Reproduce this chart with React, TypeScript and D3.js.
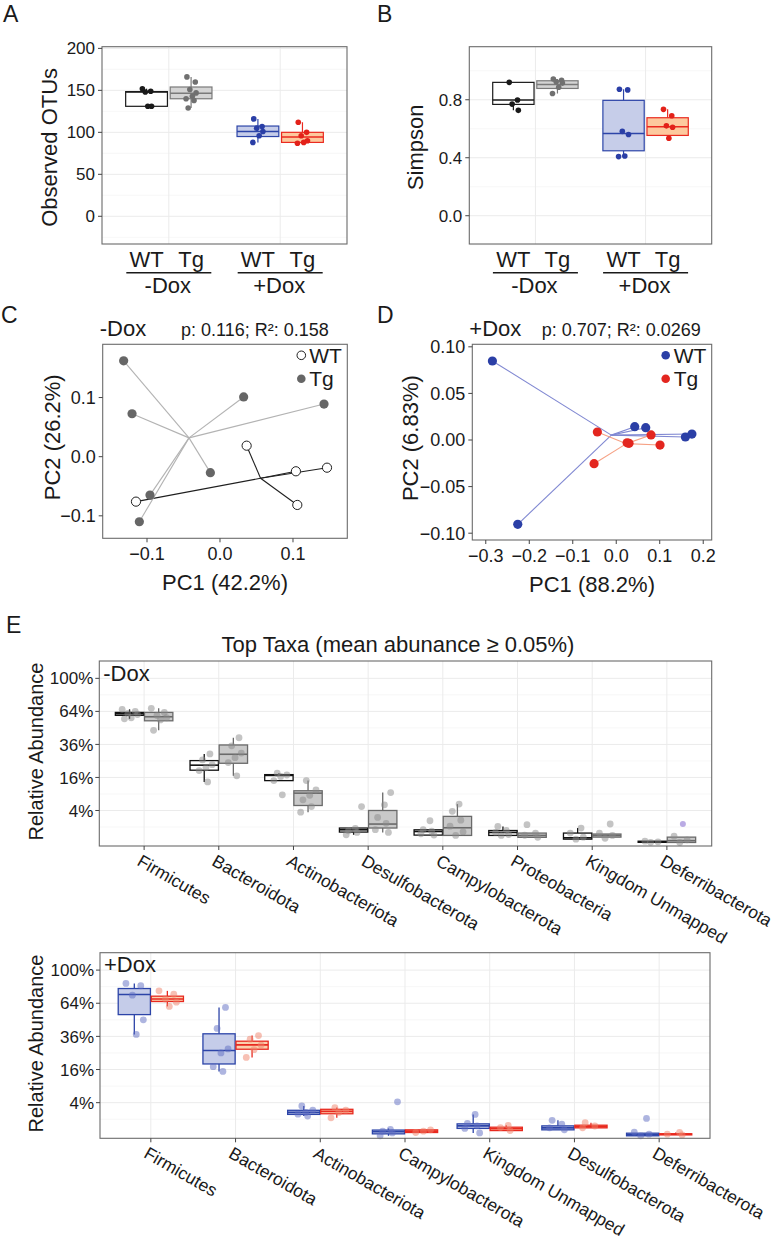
import React from "react";
import * as d3 from "d3";

const FONT = "'Liberation Sans', Arial, Helvetica, sans-serif";

// ---------- shared categories ----------
const genotypes = ["WT", "Tg"];
const conditions = ["-Dox", "+Dox"];

type Stat = { lo: number; q1: number; med: number; q3: number; hi: number };

// ---------- Panel A: Observed OTUs (order: WT-Dox, Tg-Dox, WT+Dox, Tg+Dox) ----------
const otuStats: Stat[] = [
  { lo: 131, q1: 131, med: 148, q3: 148.5, hi: 152 },
  { lo: 129, q1: 140, med: 146.5, q3: 154, hi: 166 },
  { lo: 88, q1: 95, med: 101, q3: 107.5, hi: 116 },
  { lo: 87, q1: 88, med: 94.5, q3: 100, hi: 112 },
];
const otuPoints: number[][] = [
  [152, 149, 148, 131, 131],
  [166, 160, 151, 147, 143, 140, 138, 129],
  [116, 107, 105, 101, 96, 88],
  [112, 100, 96, 90, 88, 87],
];
const otuTicks = [0, 50, 100, 150, 200];
const otuMinor = [-25, 25, 75, 125, 175];

// ---------- Panel B: Simpson ----------
const simpsonStats: Stat[] = [
  { lo: 0.727, q1: 0.768, med: 0.798, q3: 0.92, hi: 0.92 },
  { lo: 0.843, q1: 0.878, med: 0.905, q3: 0.931, hi: 0.943 },
  { lo: 0.41, q1: 0.448, med: 0.568, q3: 0.796, hi: 0.872 },
  { lo: 0.534, q1: 0.554, med: 0.614, q3: 0.676, hi: 0.734 },
];
const simpsonPoints: number[][] = [
  [0.92, 0.798, 0.77, 0.727],
  [0.943, 0.935, 0.924, 0.915, 0.886, 0.843],
  [0.872, 0.868, 0.582, 0.56, 0.412, 0.408],
  [0.734, 0.69, 0.62, 0.61, 0.534],
];
const simpsonTicks = [0, 0.4, 0.8];
const simpsonMinor = [-0.2, 0.2, 0.6, 1.0];

// ---------- Panel C: PCoA -Dox ----------
const pcoaC_WT: [number, number][] = [
  [0.0365, 0.0186], [0.104, -0.0247], [0.1466, -0.0186], [0.1059, -0.0816], [-0.1151, -0.076],
];
const pcoaC_Tg: [number, number][] = [
  [-0.132, 0.162], [-0.1205, 0.0726], [0.0324, 0.101], [0.1425, 0.089], [-0.0132, -0.027], [-0.0959, -0.065], [-0.1105, -0.11],
];
const pcoaC_ticks = [-0.1, 0, 0.1];

// ---------- Panel D: PCoA +Dox ----------
const pcoaD_WT: [number, number][] = [
  [-0.2848, 0.0848], [-0.2265, -0.0905], [0.0425, 0.0143], [0.0678, 0.0132], [0.159, 0.0032], [0.174, 0.0064],
];
const pcoaD_Tg: [number, number][] = [
  [-0.0434, 0.0086], [-0.051, -0.0254], [0.0294, -0.0036], [0.08, 0.0054], [0.1007, -0.0054], [0.025, -0.003],
];
const pcoaD_xTicks = [-0.3, -0.2, -0.1, 0, 0.1, 0.2];
const pcoaD_yTicks = [-0.1, -0.05, 0, 0.05, 0.1];

// ---------- Panel E: taxa (percent) ----------
const abundTicks = [4, 16, 36, 64, 100];

const taxaTop = ["Firmicutes", "Bacteroidota", "Actinobacteriota", "Desulfobacterota", "Campylobacterota", "Proteobacteria", "Kingdom Unmapped", "Deferribacterota"];
const topWTStats: Stat[] = [
  { lo: 57, q1: 60.2, med: 61.7, q3: 63, hi: 66 },
  { lo: 13.9, q1: 19.7, med: 22.5, q3: 25.2, hi: 29.4 },
  { lo: 14.5, q1: 14.5, med: 17.0, q3: 17.4, hi: 18.1 },
  { lo: 0.28, q1: 0.48, med: 0.69, q3: 0.88, hi: 0.88 },
  { lo: 0.26, q1: 0.26, med: 0.53, q3: 0.69, hi: 0.69 },
  { lo: 0.24, q1: 0.24, med: 0.45, q3: 0.62, hi: 1.07 },
  { lo: 0.07, q1: 0.07, med: 0.12, q3: 0.4, hi: 0.88 },
  { lo: 0.005, q1: 0.005, med: 0.01, q3: 0.02, hi: 0.02 },
];
const topTgStats: Stat[] = [
  { lo: 47, q1: 55.2, med: 58.9, q3: 63, hi: 67 },
  { lo: 16.8, q1: 23.6, med: 29.2, q3: 35.6, hi: 41 },
  { lo: 3.6, q1: 5.3, med: 9.3, q3: 10.2, hi: 14.5 },
  { lo: 0.45, q1: 0.88, med: 1.39, q3: 4.0, hi: 9.5 },
  { lo: 0.24, q1: 0.24, med: 0.91, q3: 2.7, hi: 5.7 },
  { lo: 0.14, q1: 0.14, med: 0.24, q3: 0.4, hi: 0.4 },
  { lo: 0.15, q1: 0.15, med: 0.24, q3: 0.33, hi: 0.33 },
  { lo: 0.004, q1: 0.004, med: 0.03, q3: 0.15, hi: 0.15 },
];
const topWTPoints: number[][] = [
  [66, 64, 62, 61, 58, 57],
  [29.4, 25.6, 22.8, 21, 19.5, 13.9],
  [18.1, 17.2, 16.5, 14.5, 8.7],
  [5.0, 0.85, 0.6, 0.45, 0.28],
  [1.9, 0.7, 0.55, 0.35, 0.26],
  [1.07, 0.62, 0.45, 0.3, 0.24],
  [0.88, 0.4, 0.15, 0.07],
  [0.02, 0.01, 0.005],
];
const topTgPoints: number[][] = [
  [67, 63, 60, 58, 56, 47],
  [41, 35, 30, 27, 24, 16.8],
  [14.5, 10.5, 8.5, 7, 5, 3.6],
  [9.5, 5.5, 2.5, 1.5, 0.7, 0.45],
  [5.7, 3.8, 2.0, 1.1, 0.5, 0.24],
  [1.3, 0.4, 0.25, 0.14],
  [1.4, 0.4, 0.24, 0.1],
  [0.2, 0.05, 0.004],
];
const topHighlight = { taxon: "Deferribacterota", value: 1.4 };

const taxaBottom = ["Firmicutes", "Bacteroidota", "Actinobacteriota", "Campylobacterota", "Kingdom Unmapped", "Desulfobacterota", "Deferribacterota"];
const botWTStats: Stat[] = [
  { lo: 37.4, q1: 53.5, med: 72.7, q3: 79, hi: 84.6 },
  { lo: 15.1, q1: 18.8, med: 26.5, q3: 37.9, hi: 59.9 },
  { lo: 1.42, q1: 1.67, med: 2.0, q3: 2.37, hi: 3.24 },
  { lo: 0.0, q1: 0.014, med: 0.06, q3: 0.12, hi: 0.2 },
  { lo: 0.03, q1: 0.2, med: 0.36, q3: 0.52, hi: 1.67 },
  { lo: 0.13, q1: 0.13, med: 0.23, q3: 0.36, hi: 0.87 },
  { lo: 0.0, q1: 0.0, med: 0.003, q3: 0.025, hi: 0.03 },
];
const botTgStats: Stat[] = [
  { lo: 61, q1: 65.7, med: 68.2, q3: 71, hi: 76.5 },
  { lo: 22.4, q1: 27.3, med: 30.1, q3: 32.6, hi: 36.6 },
  { lo: 1.18, q1: 1.77, med: 2.18, q3: 2.56, hi: 2.9 },
  { lo: 0.04, q1: 0.04, med: 0.08, q3: 0.13, hi: 0.13 },
  { lo: 0.1, q1: 0.1, med: 0.18, q3: 0.27, hi: 0.4 },
  { lo: 0.23, q1: 0.23, med: 0.31, q3: 0.41, hi: 0.62 },
  { lo: 0.003, q1: 0.003, med: 0.01, q3: 0.015, hi: 0.04 },
];
const botWTPoints: number[][] = [
  [84.6, 82, 72, 49, 37.4],
  [60, 42, 27.5, 25, 17.4, 15.1],
  [3.24, 2.4, 2.0, 1.7, 1.42],
  [4.2, 0.15, 0.08, 0.03, 0.0],
  [1.67, 0.55, 0.36, 0.2, 0.03],
  [0.87, 0.5, 0.23, 0.13],
  [1.1, 0.05, 0.01, 0.0],
];
const botTgPoints: number[][] = [
  [76.5, 73, 68, 65, 61],
  [36.6, 34, 30, 27, 22.4],
  [2.9, 2.4, 2.0, 1.18],
  [0.13, 0.08, 0.04],
  [0.4, 0.25, 0.1],
  [0.62, 0.35, 0.23],
  [0.04, 0.01, 0.003],
];

// ---------- styles ----------
const GRID = "#ebebeb";
const GRID_MINOR = "#f3f3f3";
const FRAME = "#6b6b6b";
const TXT = "#1a1a1a";

const alphaStyles = [
  { stroke: "#1a1a1a", fill: "#ffffff", pt: "#1a1a1a" },
  { stroke: "#7a7a7a", fill: "#d4d4d4", pt: "#707070" },
  { stroke: "#2d45a8", fill: "#c6cde9", pt: "#2a3ea6" },
  { stroke: "#ea2a20", fill: "#fdc99e", pt: "#e32119" },
];
const jitterA = [-0.1, 0.1, -0.03, 0.12, 0.03, -0.12, 0.07, -0.07];
const jitterE = [-0.26, 0.2, -0.06, 0.28, 0.06, -0.18, 0.12];

type Frame = { x0: number; y0: number; x1: number; y1: number };

function BoxMark({ cx, w, y, s, stroke, fill, sw }: { cx: number; w: number; y: (v: number) => number; s: Stat; stroke: string; fill: string; sw: number }) {
  const top = y(s.q3);
  const bot = y(s.q1);
  return (
    <g>
      <line x1={cx} x2={cx} y1={y(s.hi)} y2={top} stroke={stroke} strokeWidth={sw} />
      <line x1={cx} x2={cx} y1={bot} y2={y(s.lo)} stroke={stroke} strokeWidth={sw} />
      <rect x={cx - w / 2} y={top} width={w} height={Math.max(0.6, bot - top)} fill={fill} stroke={stroke} strokeWidth={sw} />
      <line x1={cx - w / 2} x2={cx + w / 2} y1={y(s.med)} y2={y(s.med)} stroke={stroke} strokeWidth={sw + 0.3} />
    </g>
  );
}

function AlphaPanel({ f, stats, points, yDomain, ticks, minor, fmt, title, titleX }: any) {
  const x = d3.scalePoint<string>().domain(conditions).range([f.x0, f.x1]).padding(0.6);
  const y = d3.scaleLinear().domain(yDomain).range([f.y1, f.y0]);
  const step = x.step();
  const bw = 0.375 * step;
  const off = 0.2 * step;
  const groups = conditions.flatMap((c, ci) =>
    genotypes.map((g, gi) => ({ c, g, idx: ci * 2 + gi, cx: (x(c) as number) + (gi === 0 ? -off : off) }))
  );
  return (
    <g>
      {minor.map((t: number) => (
        <line key={"m" + t} x1={f.x0} x2={f.x1} y1={y(t)} y2={y(t)} stroke={GRID_MINOR} strokeWidth={0.7} />
      ))}
      {ticks.map((t: number) => (
        <line key={"g" + t} x1={f.x0} x2={f.x1} y1={y(t)} y2={y(t)} stroke={GRID} strokeWidth={1} />
      ))}
      {conditions.map((c) => (
        <line key={c} x1={x(c)} x2={x(c)} y1={f.y0} y2={f.y1} stroke={GRID} strokeWidth={1} />
      ))}
      {groups.map((g) => (
        <BoxMark key={g.idx} cx={g.cx} w={bw} y={y} s={stats[g.idx]} stroke={alphaStyles[g.idx].stroke} fill={alphaStyles[g.idx].fill} sw={1.2} />
      ))}
      {groups.map((g) =>
        points[g.idx].map((v: number, i: number) => (
          <circle key={g.idx + "-" + i} cx={g.cx + jitterA[i % jitterA.length] * bw} cy={y(v)} r={2.8} fill={alphaStyles[g.idx].pt} />
        ))
      )}
      <rect x={f.x0} y={f.y0} width={f.x1 - f.x0} height={f.y1 - f.y0} fill="none" stroke={FRAME} strokeWidth={1.1} />
      {ticks.map((t: number) => (
        <g key={"t" + t}>
          <line x1={f.x0 - 4} x2={f.x0} y1={y(t)} y2={y(t)} stroke="#444" strokeWidth={1} />
          <text x={f.x0 - 7} y={y(t)} dy="0.36em" textAnchor="end" fontSize={17} fill={TXT}>{fmt(t)}</text>
        </g>
      ))}
      {groups.map((g) => (
        <text key={"l" + g.idx} x={g.cx} y={f.y1 + 22.7} textAnchor="middle" fontSize={22} fill={TXT}>{g.g}</text>
      ))}
      {conditions.map((c) => (
        <g key={"c" + c}>
          <line x1={(x(c) as number) - 42.5} x2={(x(c) as number) + 42.5} y1={f.y1 + 28.7} y2={f.y1 + 28.7} stroke={TXT} strokeWidth={1.4} />
          <text x={(x(c) as number) - 1} y={f.y1 + 49} textAnchor="middle" fontSize={22} fill={TXT}>{c}</text>
        </g>
      ))}
      <text transform={`translate(${titleX},${(f.y0 + f.y1) / 2 + 2}) rotate(-90)`} textAnchor="middle" fontSize={22} fill={TXT}>{title}</text>
    </g>
  );
}

function PcoaPanel({ f, xDomain, yDomain, xTicks, yTicks, xFmt, yFmt, wt, tg, st, cond, stat, xTitle, yTitle, yTitleX, statX }: any) {
  const x = d3.scaleLinear().domain(xDomain).range([f.x0, f.x1]);
  const y = d3.scaleLinear().domain(yDomain).range([f.y1, f.y0]);
  const cen = (pts: [number, number][]) => [d3.mean(pts, (p) => p[0]) as number, d3.mean(pts, (p) => p[1]) as number];
  const groups = [
    { pts: wt, c: cen(wt), s: st.wt },
    { pts: tg, c: cen(tg), s: st.tg },
  ];
  return (
    <g>
      {groups.map((g, gi) =>
        g.pts.map((p: [number, number], i: number) => (
          <line key={gi + "l" + i} x1={x(g.c[0])} y1={y(g.c[1])} x2={x(p[0])} y2={y(p[1])} stroke={g.s.line} strokeWidth={1.1} />
        ))
      )}
      {[groups[1], groups[0]].map((g, gi) =>
        g.pts.map((p: [number, number], i: number) => (
          <circle key={gi + "p" + i} cx={x(p[0])} cy={y(p[1])} r={4.6} fill={g.s.fill} stroke={g.s.stroke} strokeWidth={g.s.sw} />
        ))
      )}
      <rect x={f.x0} y={f.y0} width={f.x1 - f.x0} height={f.y1 - f.y0} fill="none" stroke={FRAME} strokeWidth={1.1} />
      {xTicks.map((t: number) => (
        <g key={"x" + t}>
          <line x1={x(t)} x2={x(t)} y1={f.y1} y2={f.y1 + 4} stroke="#444" />
          <text x={x(t)} y={f.y1 + 22} textAnchor="middle" fontSize={18} fill={TXT}>{xFmt(t)}</text>
        </g>
      ))}
      {yTicks.map((t: number) => (
        <g key={"y" + t}>
          <line x1={f.x0 - 4} x2={f.x0} y1={y(t)} y2={y(t)} stroke="#444" />
          <text x={f.x0 - 7} y={y(t)} dy="0.36em" textAnchor="end" fontSize={18} fill={TXT}>{yFmt(t)}</text>
        </g>
      ))}
      <text x={f.x0 - 3} y={f.y0 - 8} fontSize={22} fill={TXT}>{cond}</text>
      <text x={statX} y={f.y0 - 8} fontSize={18} fill={TXT}>{stat}</text>
      <text x={(f.x0 + f.x1) / 2} y={f.y1 + 52} textAnchor="middle" fontSize={22} fill={TXT}>{xTitle}</text>
      <text transform={`translate(${yTitleX},${(f.y0 + f.y1) / 2 - 4}) rotate(-90)`} textAnchor="middle" fontSize={22} fill={TXT}>{yTitle}</text>
      {genotypes.map((g, i) => {
        const s = i === 0 ? st.wt : st.tg;
        const ly = f.y0 + 11 + i * 23.5;
        return (
          <g key={"lg" + g}>
            <circle cx={f.x1 - 46} cy={ly} r={4.3} fill={s.fill} stroke={s.stroke} strokeWidth={s.sw} />
            <text x={f.x1 - 38} y={ly} dy="0.36em" fontSize={21} fill={TXT}>{g}</text>
          </g>
        );
      })}
    </g>
  );
}

function TaxaPanel({ f, taxa, wtStats, tgStats, wtPts, tgPts, st, label, highlight }: any) {
  const x = d3.scalePoint<string>().domain(taxa).range([f.x0, f.x1]).padding(0.6);
  const ys = d3.scaleLinear().domain([-0.015, 1.105]).range([f.y1, f.y0]);
  const y = (v: number) => ys(Math.sqrt(v / 100));
  const step = x.step();
  const bw = 0.38 * step;
  const off = 0.195 * step;
  const minor = abundTicks.map((t) => (Math.sqrt(t) - 1) ** 2);
  const sets = [
    { stats: wtStats, pts: wtPts, s: st.wt, dx: -off },
    { stats: tgStats, pts: tgPts, s: st.tg, dx: off },
  ];
  return (
    <g>
      {minor.map((t) => (
        <line key={"m" + t} x1={f.x0} x2={f.x1} y1={y(t)} y2={y(t)} stroke={GRID_MINOR} strokeWidth={0.7} />
      ))}
      {abundTicks.map((t) => (
        <line key={"g" + t} x1={f.x0} x2={f.x1} y1={y(t)} y2={y(t)} stroke={GRID} strokeWidth={1} />
      ))}
      {taxa.map((t: string) => (
        <line key={"v" + t} x1={x(t)} x2={x(t)} y1={f.y0} y2={f.y1} stroke={GRID} strokeWidth={1} />
      ))}
      {sets.map((set, si) =>
        taxa.map((t: string, ti: number) => (
          <BoxMark key={si + t} cx={(x(t) as number) + set.dx} w={bw} y={y} s={set.stats[ti]} stroke={set.s.stroke} fill={set.s.fill} sw={1.3} />
        ))
      )}
      {sets.map((set, si) =>
        taxa.map((t: string, ti: number) =>
          set.pts[ti].map((v: number, i: number) => (
            <circle key={si + t + i} cx={(x(t) as number) + set.dx + jitterE[(i + ti) % jitterE.length] * bw} cy={y(v)} r={3.4} fill={set.s.pt} fillOpacity={0.5} />
          ))
        )
      )}
      {highlight && (
        <circle cx={(x(highlight.taxon) as number) + off + 0.05 * bw} cy={y(highlight.value)} r={3} fill="#9d88d8" fillOpacity={0.7} />
      )}
      <rect x={f.x0} y={f.y0} width={f.x1 - f.x0} height={f.y1 - f.y0} fill="none" stroke={FRAME} strokeWidth={1.1} />
      {abundTicks.map((t) => (
        <g key={"t" + t}>
          <line x1={f.x0 - 4} x2={f.x0} y1={y(t)} y2={y(t)} stroke="#444" />
          <text x={f.x0 - 6} y={y(t)} dy="0.36em" textAnchor="end" fontSize={17} fill={TXT}>{t + "%"}</text>
        </g>
      ))}
      {taxa.map((t: string) => (
        <g key={"xl" + t}>
          <line x1={x(t)} x2={x(t)} y1={f.y1} y2={f.y1 + 4} stroke="#444" />
          <text transform={`translate(${(x(t) as number) - 8},${f.y1 + 18.5}) rotate(30)`} fontSize={17.5} fill={TXT}>{t}</text>
        </g>
      ))}
      <text x={f.x0 + 4} y={f.y0 + 19.5} fontSize={22} fill={TXT}>{label}</text>
      <text transform={`translate(42.7,${(f.y0 + f.y1) / 2 - 2}) rotate(-90)`} textAnchor="middle" fontSize={20} fill={TXT}>Relative Abundance</text>
    </g>
  );
}

const panelLetters = [
  { t: "A", x: 3, y: 22 },
  { t: "B", x: 377, y: 22 },
  { t: "C", x: 1, y: 323 },
  { t: "D", x: 377, y: 323 },
  { t: "E", x: 6, y: 633 },
];

export default function App() {
  const fA: Frame = { x0: 102, y0: 46.7, x1: 347, y1: 244 };
  const fB: Frame = { x0: 469.3, y0: 46.7, x1: 711.7, y1: 244 };
  const fC: Frame = { x0: 102.7, y0: 344.3, x1: 347.3, y1: 538.3 };
  const fD: Frame = { x0: 472.3, y0: 344.3, x1: 711.7, y1: 540 };
  const fE1: Frame = { x0: 99.3, y0: 661, x1: 711.7, y1: 846 };
  const fE2: Frame = { x0: 100, y0: 952.7, x1: 710, y1: 1138.3 };
  const f1 = d3.format(".1f");
  const f2 = d3.format(".2f");
  return (
    <svg width={780} height={1239} style={{ position: "absolute", left: 0, top: 0, background: "#fff" }} fontFamily={FONT}>
      <rect x={0} y={0} width={780} height={1239} fill="#fff" />
      {panelLetters.map((p) => (
        <text key={p.t} x={p.x} y={p.y} fontSize={23} fill={TXT}>{p.t}</text>
      ))}
      <AlphaPanel f={fA} stats={otuStats} points={otuPoints} yDomain={[-33, 202]} ticks={otuTicks} minor={otuMinor} fmt={d3.format("d")} title="Observed OTUs" titleX={56.5} />
      <AlphaPanel f={fB} stats={simpsonStats} points={simpsonPoints} yDomain={[-0.195, 1.166]} ticks={simpsonTicks} minor={simpsonMinor} fmt={f1} title="Simpson" titleX={423} />
      <PcoaPanel
        f={fC} xDomain={[-0.1607, 0.1744]} yDomain={[-0.138, 0.19]} xTicks={pcoaC_ticks} yTicks={pcoaC_ticks} xFmt={f1} yFmt={f1}
        wt={pcoaC_WT} tg={pcoaC_Tg}
        st={{ wt: { line: "#1f1f1f", fill: "#ffffff", stroke: "#1f1f1f", sw: 1 }, tg: { line: "#b3b3b3", fill: "#666666", stroke: "none", sw: 0 } }}
        cond="-Dox" stat="p: 0.116; R²: 0.158" statX={181} xTitle="PC1 (42.2%)" yTitle="PC2 (26.2%)" yTitleX={60}
      />
      <PcoaPanel
        f={fD} xDomain={[-0.331, 0.2195]} yDomain={[-0.1073, 0.1027]} xTicks={pcoaD_xTicks} yTicks={pcoaD_yTicks} xFmt={f1} yFmt={f2}
        wt={pcoaD_WT} tg={pcoaD_Tg}
        st={{ wt: { line: "#8088d2", fill: "#2b3fa6", stroke: "none", sw: 0 }, tg: { line: "#f6a184", fill: "#e3261f", stroke: "none", sw: 0 } }}
        cond="+Dox" stat="p: 0.707; R²: 0.0269" statX={541.7} xTitle="PC1 (88.2%)" yTitle="PC2 (6.83%)" yTitleX={418}
      />
      <text x={398} y={652} textAnchor="middle" fontSize={22} fill={TXT}>Top Taxa (mean abunance ≥ 0.05%)</text>
      <TaxaPanel
        f={fE1} taxa={taxaTop} wtStats={topWTStats} tgStats={topTgStats} wtPts={topWTPoints} tgPts={topTgPoints}
        st={{ wt: { stroke: "#111111", fill: "#ffffff", pt: "#8a8a8a" }, tg: { stroke: "#6a6a6a", fill: "#c9c9c9", pt: "#8a8a8a" } }}
        label="-Dox" highlight={topHighlight}
      />
      <TaxaPanel
        f={fE2} taxa={taxaBottom} wtStats={botWTStats} tgStats={botTgStats} wtPts={botWTPoints} tgPts={botTgPoints}
        st={{ wt: { stroke: "#2c44a8", fill: "#c5cce9", pt: "#5d6cc2" }, tg: { stroke: "#e8291f", fill: "#fbcfae", pt: "#f0826a" } }}
        label="+Dox"
      />
    </svg>
  );
}
